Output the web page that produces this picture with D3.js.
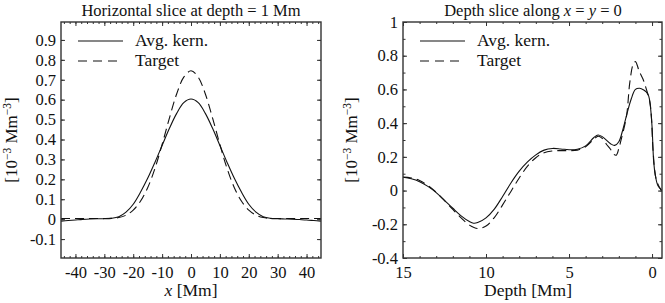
<!DOCTYPE html>
<html>
<head>
<meta charset="utf-8">
<script src="https://cdn.jsdelivr.net/npm/d3@7"></script>
<style>
  body { margin: 0; background: #fff; }
  text { font-family: "Liberation Serif", "DejaVu Serif", serif; fill: #111; }
</style>
</head>
<body>
<svg id="chart" width="665" height="303"></svg>
<script>
'use strict';

// Horizontal slice at depth = 1 Mm
var hX = [-45, -42.5, -40, -37.5, -35, -32.5, -30, -27.5, -25, -22.5, -20, -17.5, -15, -12.5, -10, -7.5, -5, -2.5, 0,
          2.5, 5, 7.5, 10, 12.5, 15, 17.5, 20, 22.5, 25, 27.5, 30, 32.5, 35, 37.5, 40, 42.5, 45];
var hAvg = [-0.010, -0.007, -0.004, -0.001, 0.001, 0.002, 0.002, 0.004, 0.012, 0.035, 0.075, 0.135, 0.205, 0.285, 0.37, 0.455, 0.53, 0.585, 0.603,
            0.585, 0.53, 0.455, 0.37, 0.285, 0.205, 0.135, 0.075, 0.035, 0.012, 0.004, 0.002, 0.001, 0.0, -0.002, -0.004, -0.007, -0.010];
var hTarget = [0.003, 0.003, 0.003, 0.003, 0.003, 0.003, 0.003, 0.004, 0.008, 0.02, 0.045, 0.09, 0.158, 0.254, 0.375, 0.506, 0.627, 0.713, 0.745,
               0.713, 0.627, 0.506, 0.375, 0.254, 0.158, 0.09, 0.045, 0.02, 0.008, 0.004, 0.003, 0.003, 0.003, 0.003, 0.003, 0.003, 0.003];

// Depth slice along x = y = 0
var dDepth = [15, 14.5, 14, 13.5, 13, 12.5, 12, 11.5, 11, 10.75, 10.5, 10, 9.5, 9, 8.5, 8, 7.5, 7, 6.5, 6, 5.5, 5, 4.5, 4, 3.5,
              3.25, 3, 2.5, 2.25, 2, 1.75, 1.5, 1.25, 1, 0.75, 0.5, 0.35, 0.2, 0.1, 0, -0.1, -0.2, -0.35, -0.6];
var dAvg = [0.079, 0.07, 0.053, 0.025, -0.012, -0.058, -0.105, -0.15, -0.184, -0.194, -0.19, -0.162, -0.11, -0.035, 0.045, 0.115, 0.17, 0.212, 0.24, 0.25, 0.247, 0.242, 0.245, 0.265, 0.315,
            0.33, 0.32, 0.278, 0.268, 0.29, 0.365, 0.46, 0.545, 0.6, 0.607, 0.597, 0.585, 0.56, 0.5, 0.38, 0.17, 0.09, 0.03, 0.0];
var tDepth = [15, 14.5, 14, 13.5, 13, 12.5, 12, 11.5, 11, 10.5, 10, 9.5, 9, 8.5, 8, 7.5, 7, 6.5, 6, 5.5, 5, 4.5, 4, 3.5, 3.25, 3,
              2.75, 2.5, 2.3, 2.15, 2, 1.84, 1.54, 1.34, 1.14, 1, 0.78, 0.54, 0.34, 0.14, 0.04, -0.06, -0.26, -0.56];
var tTarget = [0.08, 0.075, 0.06, 0.03, -0.01, -0.06, -0.112, -0.162, -0.205, -0.225, -0.21, -0.16, -0.085, -0.005, 0.075, 0.145, 0.195, 0.225, 0.235, 0.237, 0.237, 0.24, 0.26, 0.305, 0.322, 0.31,
               0.275, 0.245, 0.215, 0.21, 0.25, 0.31, 0.44, 0.64, 0.748, 0.765, 0.71, 0.66, 0.6, 0.53, 0.44, 0.24, 0.063, 0.0];

var hXTicks = [-40, -30, -20, -10, 0, 10, 20, 30, 40];
var hYTicks = [-0.1, 0, 0.1, 0.2, 0.3, 0.4, 0.5, 0.6, 0.7, 0.8, 0.9];
var dXTicks = [15, 10, 5, 0];
var dYTicks = [-0.4, -0.2, 0, 0.2, 0.4, 0.6, 0.8, 1];

var svg = d3.select("#chart");
var FRAME = "#333";
var TXT = "17.5px";
var fmt = function(v) { return String(+v.toFixed(1)); };

function panel(p) {
  var g = svg.append("g");
  var x = d3.scaleLinear().domain(p.xDomain).range([p.left, p.right]);
  var y = d3.scaleLinear().domain(p.yDomain).range([p.bottom, p.top]);

  // ticks: inward on all four sides
  function tickAxis(axisFn, scale, values, size, pos, labels) {
    var a = axisFn(scale).tickValues(values).tickSizeInner(-size).tickSizeOuter(0).tickPadding(6);
    a.tickFormat(labels ? fmt : function() { return ""; });
    var ag = g.append("g").attr("transform", pos).call(a);
    ag.select(".domain").remove();
    ag.selectAll("line").attr("stroke", FRAME).attr("stroke-width", 1);
    ag.selectAll("text").style("font-family", '"Liberation Serif", serif').style("font-size", "16.5px").attr("fill", "#111");
    return ag;
  }
  tickAxis(d3.axisBottom, x, p.xMinor, 2, "translate(0," + p.bottom + ")", false);
  tickAxis(d3.axisTop, x, p.xMinor, 2, "translate(0," + p.top + ")", false);
  tickAxis(d3.axisLeft, y, p.yMinor, 2.5, "translate(" + p.left + ",0)", false);
  tickAxis(d3.axisRight, y, p.yMinor, 2.5, "translate(" + p.right + ",0)", false);
  tickAxis(d3.axisBottom, x, p.xTicks, 4, "translate(0," + p.bottom + ")", true)
    .selectAll("text").attr("dy", "0.71em").attr("y", 8);
  tickAxis(d3.axisTop, x, p.xTicks, 4, "translate(0," + p.top + ")", false);
  tickAxis(d3.axisLeft, y, p.yTicks, 4, "translate(" + p.left + ",0)", true)
    .selectAll("text").attr("x", -5);
  tickAxis(d3.axisRight, y, p.yTicks, 4, "translate(" + p.right + ",0)", false);

  var line = d3.line().x(function(d) { return x(d[0]); }).y(function(d) { return y(d[1]); })
    .curve(d3.curveCatmullRom.alpha(0.5));

  var clip = "clip" + p.id;
  svg.append("clipPath").attr("id", clip).append("rect")
    .attr("x", p.left).attr("y", p.top).attr("width", p.right - p.left).attr("height", p.bottom - p.top);

  g.append("path").datum(d3.zip(p.tX, p.tY)).attr("d", line).attr("clip-path", "url(#" + clip + ")")
    .attr("fill", "none").attr("stroke", "#111").attr("stroke-width", 1.1).attr("stroke-dasharray", "9,5");
  g.append("path").datum(d3.zip(p.aX, p.aY)).attr("d", line).attr("clip-path", "url(#" + clip + ")")
    .attr("fill", "none").attr("stroke", "#111").attr("stroke-width", 1.1);

  g.append("rect").attr("x", p.left).attr("y", p.top)
    .attr("width", p.right - p.left).attr("height", p.bottom - p.top)
    .attr("fill", "none").attr("stroke", FRAME).attr("stroke-width", 1.4);

  // legend
  var lx = p.left + p.legendDx;
  g.append("line").attr("x1", lx).attr("x2", lx + 45).attr("y1", 41).attr("y2", 41)
    .attr("stroke", "#111").attr("stroke-width", 1.1);
  g.append("line").attr("x1", lx).attr("x2", lx + 45).attr("y1", 61).attr("y2", 61)
    .attr("stroke", "#111").attr("stroke-width", 1.1).attr("stroke-dasharray", "9,6");
  g.append("text").attr("x", lx + 57).attr("y", 46).style("font-size", TXT).text("Avg. kern.");
  g.append("text").attr("x", lx + 57).attr("y", 66).style("font-size", TXT).text("Target");

  // y label
  var yl = g.append("text").attr("transform", "translate(" + p.yLabelX + "," + ((p.top + p.bottom) / 2) + ") rotate(-90)")
    .attr("text-anchor", "middle").style("font-size", "17px");
  yl.append("tspan").text("[10");
  yl.append("tspan").attr("dy", -6).style("font-size", "11.5px").text("\u22123");
  yl.append("tspan").attr("dy", 6).text(" Mm");
  yl.append("tspan").attr("dy", -6).style("font-size", "11.5px").text("\u22123");
  yl.append("tspan").attr("dy", 6).text("]");

  return g;
}

var g1 = panel({
  id: 1, left: 61, right: 321, top: 22, bottom: 258,
  xDomain: [-45, 45], yDomain: [-0.195, 0.99],
  xTicks: hXTicks, xMinor: d3.range(-44, 45, 2),
  yTicks: hYTicks, yMinor: hYTicks,
  aX: hX, aY: hAvg, tX: hX, tY: hTarget,
  legendDx: 17, yLabelX: 17
});
g1.append("text").attr("x", 191).attr("y", 15.5).attr("text-anchor", "middle").style("font-size", "16.5px")
  .text("Horizontal slice at depth = 1 Mm");
var xl = g1.append("text").attr("x", 191).attr("y", 296).attr("text-anchor", "middle").style("font-size", TXT);
xl.append("tspan").style("font-style", "italic").text("x");
xl.append("tspan").text(" [Mm]");

var g2 = panel({
  id: 2, left: 403, right: 662, top: 22, bottom: 258,
  xDomain: [15, -0.6], yDomain: [-0.4, 1],
  xTicks: dXTicks, xMinor: d3.range(0, 16, 1),
  yTicks: dYTicks, yMinor: d3.range(-4, 11, 1).map(function(v) { return v / 10; }),
  aX: dDepth, aY: dAvg, tX: tDepth, tY: tTarget,
  legendDx: 17, yLabelX: 357
});
var t2 = g2.append("text").attr("x", 533).attr("y", 15.5).attr("text-anchor", "middle").style("font-size", "16.5px");
t2.append("tspan").text("Depth slice along ");
t2.append("tspan").style("font-style", "italic").text("x");
t2.append("tspan").text(" = ");
t2.append("tspan").style("font-style", "italic").text("y");
t2.append("tspan").text(" = 0");
g2.append("text").attr("x", 528).attr("y", 296).attr("text-anchor", "middle").style("font-size", TXT)
  .text("Depth [Mm]");
</script>
</body>
</html>
